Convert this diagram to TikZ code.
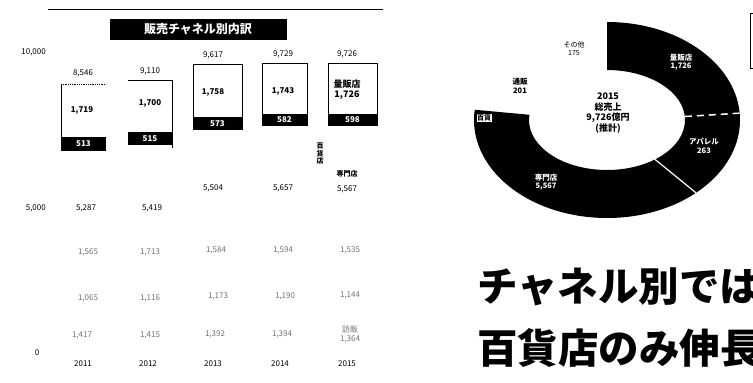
\documentclass[tikz,border=0pt]{standalone}
\usepackage{fontspec}
\setmainfont{Noto Sans CJK JP}
\begin{document}
\begin{tikzpicture}[x=1pt,y=-1pt,
  num/.style={font=\fontsize{8}{9}\selectfont, inner sep=0, align=center},
  faint/.style={num, text=black!55},
  seglabel/.style={num, font=\bfseries\fontsize{8}{9}\selectfont},
  blackseg/.style={fill=black},
  barline/.style={draw=black, line width=0.8pt},
  ringlabel/.style={inner sep=0, align=center, text=white, font=\bfseries\fontsize{7.5}{8.5}\selectfont},
  outlabel/.style={inner sep=0, align=center, font=\bfseries\fontsize{7.5}{8.5}\selectfont},
  headline/.style={anchor=west, inner sep=0, font=\bfseries\fontsize{40.5}{43}\selectfont}]
\useasboundingbox (0,0) rectangle (753,383);
\clip (0,0) rectangle (753,383);
\fill[white] (0,0) rectangle (753,383);

% ---------- left: bar chart ----------
\draw[line width=1pt] (48,9) -- (383,9);
\node[fill=black, text=white, minimum width=177pt, minimum height=21pt, inner sep=0,
      font=\bfseries\fontsize{12}{13}\selectfont] (title) at (198,29) {販売チャネル別内訳};

\node[num, anchor=east] (y10) at (46,52) {10,000};
\node[num, anchor=east] (y5) at (46,208) {5,000};
\node[num] (y0) at (37,353) {0};

% years
\node[num] (yr1) at (83,364) {2011};
\node[num] (yr2) at (148,364) {2012};
\node[num] (yr3) at (213,364) {2013};
\node[num] (yr4) at (280,364) {2014};
\node[num] (yr5) at (347,364) {2015};

% bar outlines (upper segment)
\draw[barline] (61,84) -- (61,151);
\draw[barline, densely dotted] (61,84) -- (106,84);
\draw[barline] (128,80) -- (172,80) -- (172,148);
\draw[barline] (193,130) -- (193,64) -- (242,64) -- (242,130);
\draw[barline] (262,126) -- (262,63) -- (307,63) -- (307,126);
\draw[barline] (328,126) -- (328,63) -- (377,63) -- (377,126);

% black segments
\node[blackseg, text=white, seglabel, minimum width=45pt, minimum height=14pt] (b1) at (83.5,144) {513};
\node[blackseg, text=white, seglabel, minimum width=44pt, minimum height=13pt] (b2) at (150,138.5) {515};
\node[blackseg, text=white, seglabel, minimum width=49pt, minimum height=13pt] (b3) at (217.5,123.5) {573};
\node[blackseg, text=white, seglabel, minimum width=45pt, minimum height=12pt] (b4) at (284.5,120) {582};
\node[blackseg, text=white, seglabel, minimum width=49pt, minimum height=12pt] (b5) at (352.5,120) {598};

% totals
\node[num] (t1) at (83,73) {8,546};
\node[num] (t2) at (150,71) {9,110};
\node[num] (t3) at (213,55) {9,617};
\node[num] (t4) at (283,54) {9,729};
\node[num] (t5) at (347,54) {9,726};

% upper segment values
\node[seglabel] (u1) at (82,110) {1,719};
\node[seglabel] (u2) at (150,103) {1,700};
\node[seglabel] (u3) at (213,92) {1,758};
\node[seglabel] (u4) at (283,91) {1,743};
\node[seglabel, font=\bfseries\fontsize{9}{10}\selectfont] (u5) at (347,90) {量販店\\1,726};

% vertical label
\node[seglabel, font=\bfseries\fontsize{7}{7.5}\selectfont] (vlab) at (320,154) {百\\貨\\店};

% specialty stores
\node[num, font=\bfseries\fontsize{7}{8}\selectfont] (sp) at (347,174) {専門店};
\node[num] (s3) at (213,188) {5,504};
\node[num] (s4) at (283,188) {5,657};
\node[num] (s5) at (347,189) {5,567};
\node[num] (s1) at (86,208) {5,287};
\node[num] (s2) at (152,208) {5,419};

% lower rows (faint)
\node[faint] (r11) at (88,252) {1,565};
\node[faint] (r12) at (150,252) {1,713};
\node[faint] (r13) at (216,250) {1,584};
\node[faint] (r14) at (283,250) {1,594};
\node[faint] (r15) at (350,250) {1,535};
\node[faint] (r21) at (88,298) {1,065};
\node[faint] (r22) at (150,298) {1,116};
\node[faint] (r23) at (218,296) {1,173};
\node[faint] (r24) at (285,296) {1,190};
\node[faint] (r25) at (350,295) {1,144};
\node[faint] (r31) at (82,335) {1,417};
\node[faint] (r32) at (150,335) {1,415};
\node[faint] (r33) at (215,334) {1,392};
\node[faint] (r34) at (282,334) {1,394};
\node[faint] (r35) at (350,334) {訪販\\1,364};

% ---------- right: donut ----------
\coordinate (c) at (607,120);
\fill[black] (607,22) arc[start angle=90, end angle=-186, x radius=133pt, y radius=98pt]
  -- ([shift={(c)}]-186:78pt and 50pt)
  arc[start angle=-186, end angle=90, x radius=78pt, y radius=50pt] -- cycle;
\draw[white, line width=1.5pt, dash pattern=on 7pt off 5pt] ([shift={(c)}]4:78pt and 50pt) -- ([shift={(c)}]4:133pt and 98pt);
\draw[white, line width=1.2pt] ([shift={(c)}]-52:78pt and 50pt) -- ([shift={(c)}]-48:133pt and 98pt);

\node[ringlabel] (d1) at (681,62) {量販店\\1,726};
\node[ringlabel] (d2) at (704,146) {アパレル\\263};
\node[ringlabel] (d3) at (546,182) {専門店\\5,567};
\node[outlabel] (d4) at (520,86) {通販\\201};
\node[outlabel, font=\fontsize{7}{8}\selectfont] (d5) at (574,49) {その他\\175};
\node[draw=black, fill=white, inner sep=1pt, font=\bfseries\fontsize{7}{8}\selectfont] (d6) at (484,118) {百貨};
\node[inner sep=0, align=center, font=\bfseries\fontsize{9}{10.5}\selectfont] (ctr) at (608,113) {2015\\総売上\\9,726億円\\(推計)};

\draw[line width=0.8pt] (770,13) -- (750,13) -- (750,68) -- (770,68);

% headline
\node[headline] (h1) at (477,287) {チャネル別では};
\node[headline] (h2) at (477,348) {百貨店のみ伸長};
\end{tikzpicture}
\end{document}
